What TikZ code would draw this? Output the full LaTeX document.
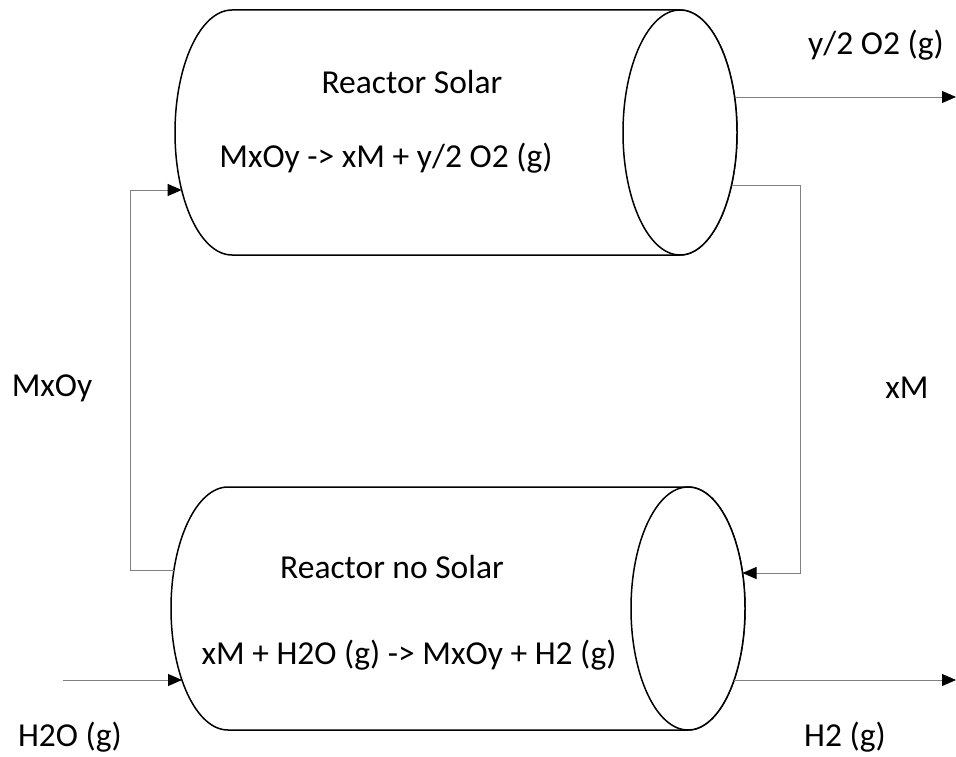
\documentclass[tikz,border=0pt]{standalone}
\usepackage{fontspec}
\setmainfont{Carlito}
\usetikzlibrary{arrows.meta}
\begin{document}
\begin{tikzpicture}[x=1pt,y=-1pt,
  cyl/.style={draw=black,line width=1.5pt,fill=white},
  flow/.style={draw=black!50,line width=0.9pt,-{Triangle[length=14pt,width=12pt,color=black]}},
  lbl/.style={font=\fontsize{33.5}{36}\selectfont,inner sep=0pt,anchor=center}]
\useasboundingbox (0,0) rectangle (956,757);
% top cylinder: left center 232, right center 680, cy 132.5, rx 57, ry 122.5
\path[cyl] (232,10) -- (680,10) arc[start angle=-90,end angle=90,x radius=57,y radius=122.5]
  -- (232,255) arc[start angle=90,end angle=270,x radius=57,y radius=122.5] -- cycle;
\draw[cyl] (680,132.5) ellipse[x radius=57,y radius=122.5];
% bottom cylinder: left center 228, right center 688, cy 608.5, rx 57, ry 121.5
\path[cyl] (228,487) -- (688,487) arc[start angle=-90,end angle=90,x radius=57,y radius=121.5]
  -- (228,730) arc[start angle=90,end angle=270,x radius=57,y radius=121.5] -- cycle;
\draw[cyl] (688,608.5) ellipse[x radius=57,y radius=121.5];
% texts
\node[lbl] (t1) at (412,82) {Reactor Solar};
\node[lbl] (t2) at (386,158) {MxOy -> xM + y/2 O2 (g)};
\node[lbl] (b1) at (392,567) {Reactor no Solar};
\node[lbl] (b2) at (409,655) {xM + H2O (g) -> MxOy + H2 (g)};
\node[lbl] (lo2) at (876,45) {y/2 O2 (g)};
\node[lbl] (lxm) at (907,388) {xM};
\node[lbl] (lmo) at (52,388) {MxOy};
\node[lbl] (lh2o) at (70,737) {H2O (g)};
\node[lbl] (lh2) at (845,737) {H2 (g)};
% attachment points
\coordinate (o2s) at (734.5,97);
\coordinate (o2e) at (956,97);
\coordinate (xms) at (731.5,185);
\coordinate (xmc1) at (800,185);
\coordinate (xmc2) at (800,573);
\coordinate (xme) at (742.5,573);
\coordinate (mos) at (174,570);
\coordinate (moc1) at (130,570);
\coordinate (moc2) at (130,190);
\coordinate (moe) at (181.7,190);
\coordinate (h2os) at (63,680);
\coordinate (h2oe) at (182,680);
\coordinate (h2s) at (734,680);
\coordinate (h2e) at (956,680);
% connectors
\draw[flow] (o2s) -- (o2e);
\draw[flow] (xms) -- (xmc1) -- (xmc2) -- (xme);
\draw[flow] (mos) -- (moc1) -- (moc2) -- (moe);
\draw[flow] (h2os) -- (h2oe);
\draw[flow] (h2s) -- (h2e);
\end{tikzpicture}
\end{document}
